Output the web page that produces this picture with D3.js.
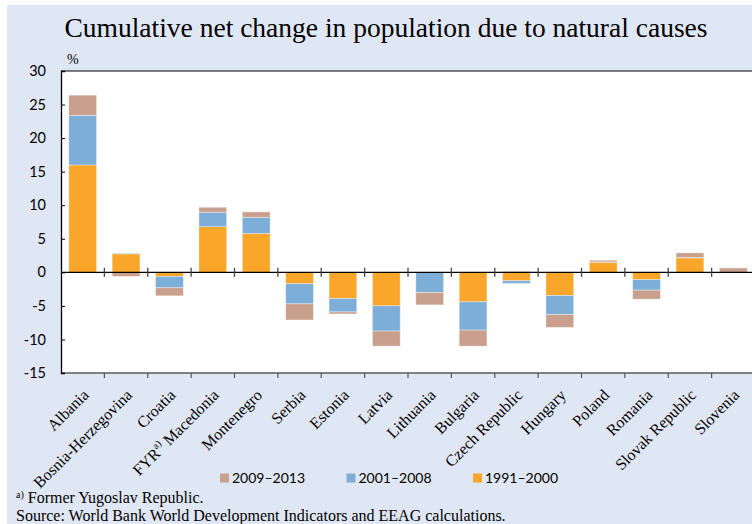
<!DOCTYPE html>
<html>
<head>
<meta charset="utf-8">
<script src="https://cdn.jsdelivr.net/npm/d3@7"></script>
<style>
  body { margin: 0; background: #fff; }
  svg { display: block; }
</style>
</head>
<body>
<div id="chart"></div>
<script>
// Chart data (percent)
const countries = ["Albania", "Bosnia-Herzegovina", "Croatia", "FYR Macedonia", "Montenegro", "Serbia",
  "Estonia", "Latvia", "Lithuania", "Bulgaria", "Czech Republic", "Hungary", "Poland", "Romania",
  "Slovak Republic", "Slovenia"];
const p1991 = [16.0, 2.75, -0.6, 6.8, 5.8, -1.7, -3.9, -5.0, 0, -4.4, -1.25, -3.45, 1.5, -1.1, 2.15, 0];
const p2001 = [7.4, 0.1, -1.7, 2.15, 2.4, -3.0, -2.0, -3.75, -3.0, -4.2, -0.4, -2.85, 0.05, -1.55, 0.05, 0];
const p2009 = [3.0, -0.6, -1.2, 0.75, 0.8, -2.4, -0.3, -2.25, -1.85, -2.4, 0.15, -1.9, 0.25, -1.35, 0.7, 0.65];
const yTicks = [-15, -10, -5, 0, 5, 10, 15, 20, 25, 30];
const seriesKeys = ["p1991", "p2001", "p2009"];
const seriesLabels = { p1991: "1991\u20132000", p2001: "2001\u20132008", p2009: "2009\u20132013" };
const legendOrder = ["p2009", "p2001", "p1991"];

const W = 752, H = 524;
const colors = { p1991: "#F9A62B", p2001: "#7CAED8", p2009: "#C9A08E" };

const svg = d3.select("#chart").append("svg")
  .attr("width", W)
  .attr("height", H);

// background panel
svg.append("rect")
  .attr("x", 7).attr("y", 5)
  .attr("width", W - 7).attr("height", H - 5)
  .attr("fill", "#E0E7F4");

svg.append("text")
  .attr("x", 386).attr("y", 37)
  .attr("text-anchor", "middle")
  .style("font-family", "'Liberation Serif', 'Times New Roman', serif")
  .style("font-size", "27.5px")
  .style("fill", "#000")
  .text("Cumulative net change in population due to natural causes");

const plot = { left: 61, right: 755, top: 71, bottom: 373 };

svg.append("rect")
  .attr("x", plot.left).attr("y", plot.top)
  .attr("width", plot.right - plot.left).attr("height", plot.bottom - plot.top)
  .attr("fill", "#fff");

const x = d3.scaleBand()
  .domain(countries)
  .range([plot.left, plot.right])
  .paddingInner(0.36)
  .paddingOuter(0.18);

const y = d3.scaleLinear()
  .domain([-15, 30])
  .range([plot.bottom, plot.top]);

const rows = countries.map((c, i) => ({ country: c, p1991: p1991[i], p2001: p2001[i], p2009: p2009[i] }));

const stacked = d3.stack()
  .keys(seriesKeys)
  .offset(d3.stackOffsetDiverging)(rows);

// bars
svg.append("g").selectAll("g")
  .data(stacked)
  .join("g")
  .attr("fill", d => colors[d.key])
  .selectAll("rect")
  .data(d => d)
  .join("rect")
  .attr("x", d => x(d.data.country))
  .attr("width", x.bandwidth())
  .attr("y", d => y(Math.max(d[0], d[1])))
  .attr("height", d => Math.abs(y(d[0]) - y(d[1])))
  .attr("stroke", "#fff")
  .attr("stroke-opacity", 0.5)
  .attr("stroke-width", 0.7);

// category boundaries
const bounds = d3.range(countries.length + 1).map(i => plot.left + i * x.step());
const y0 = y(0);

// zero line with crossing ticks
svg.append("line")
  .attr("x1", plot.left).attr("x2", plot.right)
  .attr("y1", y0).attr("y2", y0)
  .attr("stroke", "#000").attr("stroke-width", 1.3);
svg.append("g").selectAll("line")
  .data(bounds.slice(1))
  .join("line")
  .attr("x1", d => d).attr("x2", d => d)
  .attr("y1", y0 - 4.5).attr("y2", y0 + 4.5)
  .attr("stroke", "#444").attr("stroke-width", 1.3);

// bottom axis
svg.append("line")
  .attr("x1", plot.left).attr("x2", plot.right)
  .attr("y1", plot.bottom).attr("y2", plot.bottom)
  .attr("stroke", "#808080").attr("stroke-width", 2);
svg.append("g").selectAll("line")
  .data(bounds.slice(1))
  .join("line")
  .attr("x1", d => d).attr("x2", d => d)
  .attr("y1", plot.bottom).attr("y2", plot.bottom + 5)
  .attr("stroke", "#555").attr("stroke-width", 1.2);

// top border
svg.append("line")
  .attr("x1", plot.left).attr("x2", plot.right)
  .attr("y1", plot.top).attr("y2", plot.top)
  .attr("stroke", "#000").attr("stroke-width", 1.2);

// y axis
const yAxis = svg.append("g")
  .attr("transform", `translate(${plot.left},0)`)
  .call(d3.axisRight(y).tickValues(yTicks).tickSize(4).tickFormat(""));
yAxis.select(".domain").attr("stroke", "#000").attr("stroke-width", 1.3);
yAxis.selectAll(".tick line").attr("stroke", "#000");

svg.append("g").selectAll("text")
  .data(yTicks)
  .join("text")
  .attr("x", 46)
  .attr("y", d => y(d))
  .attr("dy", "0.35em")
  .attr("text-anchor", "end")
  .style("font-family", "Lato, 'Open Sans', sans-serif")
  .style("font-size", "14.5px")
  .style("fill", "#000")
  .text(d => d);

svg.append("text")
  .attr("x", 67).attr("y", 64)
  .style("font-family", "'Liberation Serif', serif")
  .style("font-size", "14px")
  .text("%");

// category labels
const xLabels = svg.append("g").selectAll("text")
  .data(countries)
  .join("text")
  .attr("transform", d => `translate(${x(d) + x.bandwidth() / 2 + 7},${plot.bottom + 23}) rotate(-45)`)
  .attr("text-anchor", "end")
  .style("font-family", "'Liberation Serif', 'Times New Roman', serif")
  .style("font-size", "16px")
  .style("fill", "#000");

xLabels.each(function(d) {
  const t = d3.select(this);
  if (d === "FYR Macedonia") {
    t.append("tspan").text("FYR");
    t.append("tspan").attr("dy", -7).style("font-size", "10px").text("a)");
    t.append("tspan").attr("dy", 7).text(" Macedonia");
  } else {
    t.text(d);
  }
});

// legend
const legend = svg.append("g")
  .selectAll("g")
  .data(legendOrder)
  .join("g")
  .attr("transform", (d, i) => `translate(${220 + i * 126.5},478)`);

legend.append("rect")
  .attr("x", 0).attr("y", -4.5)
  .attr("width", 9).attr("height", 9)
  .attr("fill", d => colors[d]);

legend.append("text")
  .attr("x", 12)
  .attr("dy", "0.35em")
  .style("font-family", "Lato, 'Open Sans', sans-serif")
  .style("font-size", "14px")
  .style("fill", "#000")
  .text(d => seriesLabels[d]);

// footnotes
const note = svg.append("text")
  .attr("x", 16).attr("y", 503)
  .style("font-family", "'Liberation Serif', 'Times New Roman', serif")
  .style("font-size", "16px")
  .style("fill", "#000");
note.append("tspan").attr("dy", -5).style("font-size", "10px").text("a)");
note.append("tspan").attr("dy", 5).text(" Former Yugoslav Republic.");

svg.append("text")
  .attr("x", 16).attr("y", 521)
  .style("font-family", "'Liberation Serif', 'Times New Roman', serif")
  .style("font-size", "16px")
  .style("fill", "#000")
  .text("Source: World Bank World Development Indicators and EEAG calculations.");
</script>
</body>
</html>
